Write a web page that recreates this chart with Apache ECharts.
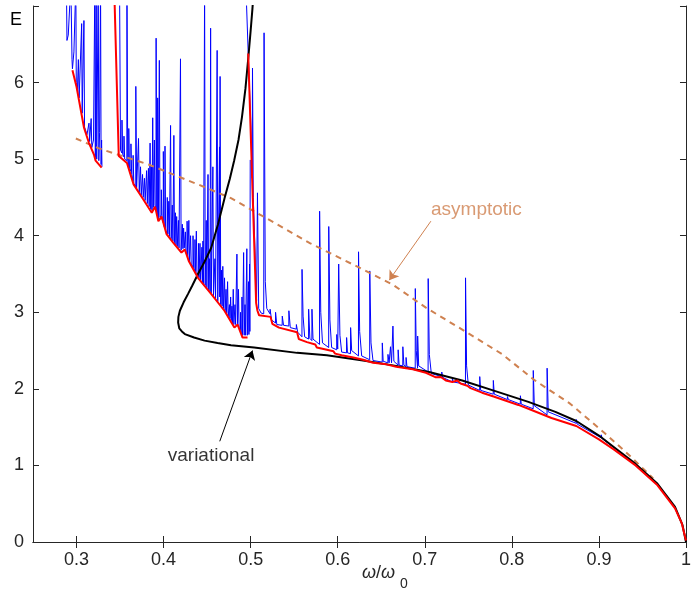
<!DOCTYPE html>
<html>
<head>
<meta charset="utf-8">
<script src="https://cdn.jsdelivr.net/npm/echarts@6/dist/echarts.min.js"></script>
<style>
  html, body { margin: 0; padding: 0; background: #fff; }
  #chart { width: 694px; height: 590px; }
</style>
</head>
<body>
<div id="chart"></div>
<script>
// tick labels
var xTicks = [0.3, 0.4, 0.5, 0.6, 0.7, 0.8, 0.9, 1];

// blue: numerical E, three pieces with spikes
var blueSeg1 = [
  [0.2884,7.3],[0.2890,6.55],[0.2905,6.62],[0.2935,7.3],[0.2948,6.3],[0.2953,6.18],[0.2970,6.4],
  [0.2992,7.3],[0.2997,6.0],[0.3010,5.9],[0.3021,6.3],[0.3030,5.8],[0.3059,6.77],[0.3065,5.6],
  [0.3085,6.81],[0.3092,5.42],[0.3120,5.32],[0.3143,5.47],[0.3150,5.23],[0.3168,5.53],[0.3175,5.15],
  [0.3195,5.25],[0.3210,7.3],[0.3216,5.02],[0.3226,7.3],[0.3232,5.0],[0.3249,7.3],[0.3256,4.98],
  [0.3265,5.35],[0.3276,7.3],[0.3282,4.93],[0.3288,5.25],[0.3292,4.9]
];
var blueSeg2 = [
  [0.3494,7.3],[0.3505,5.12],
  [0.3521,5.08],[0.3522,5.51],[0.3530,5.06],
  [0.3544,5.03],[0.3545,5.3],[0.3553,5.0],
  [0.3578,4.98],[0.3579,7.3],[0.3588,4.98],
  [0.3599,4.9],[0.3600,5.4],[0.3608,4.88],
  [0.3624,4.84],[0.3625,5.2],[0.3633,4.8],
  [0.3649,4.72],[0.3650,5.05],[0.3658,4.68],
  [0.3680,4.65],[0.3681,5.95],[0.3690,4.62],
  [0.3711,4.6],[0.3712,5.27],[0.3720,4.57],
  [0.3734,4.55],[0.3735,4.9],[0.3743,4.53],
  [0.3757,4.52],[0.3758,4.8],[0.3766,4.5],
  [0.3779,4.48],[0.3780,4.75],[0.3788,4.46],
  [0.3804,4.44],[0.3805,4.85],[0.3813,4.42],
  [0.3825,4.4],[0.3826,4.88],[0.3834,4.38],
  [0.3844,4.37],[0.3845,5.21],[0.3852,4.35],
  [0.3859,4.33],[0.3860,4.9],[0.3867,4.33],
  [0.3874,4.35],[0.3875,5.54],[0.3882,4.37],
  [0.3893,4.38],[0.3894,5.25],[0.3901,4.4],
  [0.3913,4.34],[0.3914,6.58],[0.3921,4.3],
  [0.3931,4.25],[0.3932,5.8],[0.3940,4.22],
  [0.3950,4.22],[0.3951,6.29],[0.3958,4.24],
  [0.3973,4.27],[0.3974,4.6],[0.3982,4.22],
  [0.3996,4.17],[0.3997,5.1],[0.4004,4.13],
  [0.4015,4.09],[0.4016,5.17],[0.4023,4.07],
  [0.4041,4.03],[0.4042,4.5],[0.4049,4.02],
  [0.4059,4.0],[0.4060,4.45],[0.4067,3.99],
  [0.4079,3.98],[0.4080,5.44],[0.4087,3.96],
  [0.4099,3.94],[0.4100,4.4],[0.4107,3.93],
  [0.4117,3.92],[0.4118,5.31],[0.4125,3.91],
  [0.4134,3.89],[0.4135,4.3],[0.4142,3.88],
  [0.4149,3.87],[0.4150,4.25],[0.4157,3.86],
  [0.4169,3.85],[0.4170,4.2],[0.4177,3.84],
  [0.4193,3.82],[0.4194,6.31],[0.4201,3.81],
  [0.4214,3.82],[0.4215,4.15],[0.4222,3.83],
  [0.4229,3.84],[0.4230,4.1],[0.4237,3.84],
  [0.4249,3.82],[0.4250,4.05],[0.4257,3.78],
  [0.4269,3.74],[0.4270,4.19],[0.4277,3.71],
  [0.4289,3.69],[0.4290,4.2],[0.4297,3.67],
  [0.4309,3.65],[0.4310,4.0],[0.4317,3.63],
  [0.4337,3.59],[0.4338,4.0],[0.4345,3.57],
  [0.4359,3.54],[0.4360,3.95],[0.4367,3.53],
  [0.4375,3.51],[0.4376,4.06],[0.4383,3.49],
  [0.4399,3.46],[0.4400,3.9],[0.4407,3.45],
  [0.4417,3.43],[0.4418,3.9],[0.4425,3.42],
  [0.4439,3.4],[0.4440,3.85],[0.4446,3.39],
  [0.4451,3.38],[0.4452,3.93],[0.4459,3.37],
  [0.4470,3.36],[0.4471,7.3],[0.4478,3.35],
  [0.4489,3.33],[0.4490,4.2],[0.4497,3.32],
  [0.4509,3.3],[0.4510,4.8],[0.4517,3.29],
  [0.4527,3.28],[0.4528,3.7],[0.4534,3.27],
  [0.4539,3.27],[0.4540,6.71],[0.4547,3.25],
  [0.4565,3.23],[0.4566,4.9],[0.4573,3.21],
  [0.4589,3.19],[0.4590,3.7],[0.4597,3.18],
  [0.4614,3.16],[0.4615,6.42],[0.4622,3.14],
  [0.4641,3.12],[0.4642,5.16],[0.4645,3.2],[0.4649,6.08],[0.4656,3.1],
  [0.4664,3.09],[0.4665,3.55],[0.4672,3.08],
  [0.4679,3.06],[0.4680,3.6],[0.4687,3.05],
  [0.4699,3.04],[0.4700,3.45],[0.4707,3.02],
  [0.4716,3.0],[0.4717,3.3],[0.4724,2.99],
  [0.4734,2.97],[0.4735,3.4],[0.4742,2.95],
  [0.4755,2.94],[0.4756,3.1],[0.4762,2.92],
  [0.4769,2.9],[0.4770,3.2],[0.4777,2.89],
  [0.4784,2.88],[0.4785,3.08],[0.4792,2.86],
  [0.4799,2.85],[0.4800,3.3],[0.4807,2.84],
  [0.4819,2.83],[0.4820,3.1],[0.4827,2.84],
  [0.4841,2.86],[0.4842,3.76],[0.4849,2.85],
  [0.4859,2.83],[0.4860,3.3],[0.4867,2.8],
  [0.4883,2.76],[0.4884,3.0],[0.4890,2.74],
  [0.4899,2.71],[0.4900,3.2],[0.4907,2.7],
  [0.4918,2.7],[0.4919,3.78],[0.4926,2.7],
  [0.4934,2.7],[0.4935,3.1],[0.4942,2.7],
  [0.4955,2.7],[0.4956,3.83],[0.4962,2.7],
  [0.4974,2.7],[0.4975,3.4],[0.4980,2.71],
  [0.4986,2.72],[0.4987,3.63],[0.4991,2.75],[0.4995,4.99]
];
var blueSeg3 = [
  [0.4944,7.3],[0.4972,6.38],[0.5000,5.5],[0.5018,4.75],[0.5021,6.19],[0.5030,4.5],[0.5050,3.8],
  [0.5068,3.15],[0.5078,4.56],[0.5092,3.05],[0.5120,2.99],[0.5150,2.98],[0.5154,6.65],[0.5168,3.4],
  [0.5185,3.05],[0.5222,2.98],[0.5223,3.04],[0.5240,2.9],[0.5285,2.86],[0.5286,3.0],[0.5300,2.84],
  [0.5362,2.83],[0.5363,2.95],[0.5378,2.83],[0.5438,2.82],[0.5439,3.02],[0.5455,2.80],[0.5524,2.78],
  [0.5525,2.84],[0.5540,2.74],[0.5589,2.68],[0.5590,3.56],[0.5602,2.95],[0.5620,2.68],[0.5665,2.65],
  [0.5666,3.04],[0.5680,2.66],[0.5703,2.63],[0.5704,3.04],[0.5716,2.65],[0.5791,2.58],[0.5792,4.32],
  [0.5805,3.0],[0.5825,2.6],[0.5896,2.54],[0.5897,4.12],[0.5910,2.9],[0.5930,2.54],[0.5988,2.51],
  [0.5989,2.71],[0.6000,2.52],[0.6010,2.50],[0.6011,3.63],[0.6025,2.7],[0.6045,2.48],[0.6101,2.47],
  [0.6102,2.67],[0.6112,2.47],[0.6147,2.46],[0.6148,2.80],[0.6160,2.5],[0.6238,2.43],[0.6239,3.79],
  [0.6252,2.75],[0.6275,2.43],[0.6367,2.38],[0.6368,3.54],[0.6382,2.6],[0.6405,2.37],[0.6511,2.35],
  [0.6512,2.60],[0.6522,2.36],[0.6576,2.34],[0.6577,2.45],[0.6590,2.34],[0.6605,2.33],[0.6606,2.55],
  [0.6618,2.34],[0.6633,2.32],[0.6634,2.82],[0.6645,2.36],[0.6693,2.31],[0.6694,2.51],[0.6705,2.31],
  [0.6747,2.30],[0.6748,2.55],[0.6760,2.31],[0.6784,2.29],[0.6785,2.41],[0.6795,2.29],[0.6890,2.27],
  [0.6891,3.31],[0.6902,2.5],[0.6917,2.27],[0.6918,2.69],[0.6930,2.3],[0.7038,2.22],[0.7039,3.44],
  [0.7052,2.45],[0.7075,2.2],[0.7194,2.16],[0.7195,2.22],[0.7205,2.15],[0.7316,2.09],[0.7317,2.13],
  [0.7327,2.09],[0.7467,2.06],[0.7468,3.45],[0.7480,2.3],[0.7500,2.05],[0.7630,1.98],[0.7631,2.16],
  [0.7642,1.98],[0.7786,1.93],[0.7787,2.11],[0.7798,1.93],[0.7948,1.86],[0.7949,1.90],[0.7960,1.86],
  [0.8097,1.80],[0.8098,1.91],[0.8108,1.80],[0.8245,1.74],[0.8246,2.24],[0.8258,1.78],[0.8404,1.66],
  [0.8405,2.27],[0.8418,1.7],[0.8739,1.55],[0.8740,1.60],[0.8750,1.54],[0.9026,1.36],[0.9027,1.40],
  [0.9037,1.35],[0.9300,1.12]
];

// red: lower envelope, three pieces
var redSeg1 = [[0.2953,6.16],[0.2999,5.95],[0.3086,5.41],[0.3143,5.21],[0.3200,5.06],[0.3219,4.98],[0.3288,4.89]];
var redSeg2 = [
  [0.3436,7.1],[0.3485,5.04],[0.3579,4.95],[0.3655,4.67],[0.3769,4.47],[0.3864,4.30],[0.3902,4.38],
  [0.3940,4.19],[0.3977,4.25],[0.4034,4.02],[0.4110,3.91],[0.4205,3.78],[0.4244,3.82],[0.4289,3.67],
  [0.4395,3.45],[0.4546,3.24],[0.4699,3.02],[0.4813,2.80],[0.4850,2.84],[0.4907,2.67],[0.4964,2.67]
];
var redSeg3 = [
  [0.4972,6.38],[0.5021,4.6],[0.5063,3.12],[0.5078,3.02],[0.5097,2.96],[0.5229,2.94],[0.5249,2.85],
  [0.5325,2.80],[0.5533,2.74],[0.5553,2.65],[0.5647,2.61],[0.5742,2.58],[0.5760,2.54],[0.5837,2.52],
  [0.5951,2.49],[0.5970,2.46],[0.6045,2.44],[0.6179,2.41],[0.6292,2.38],[0.6406,2.34],[0.6558,2.32],
  [0.6672,2.29],[0.6862,2.255],[0.7013,2.21],[0.7127,2.15],[0.7184,2.155],[0.7241,2.11],[0.7317,2.09],
  [0.7374,2.11],[0.7411,2.07],[0.7488,2.04],[0.7525,2.01],[0.7658,1.95],[0.7790,1.90],[0.8075,1.79],
  [0.8190,1.74],[0.8455,1.62],[0.8740,1.515],[0.9000,1.34],[0.9170,1.21],[0.9421,1.00],[0.9673,0.74],
  [0.9874,0.44],[0.9950,0.25],[1.0,0.02]
];

// black: variational curve (turns back at the nose)
var variational = [
  [0.5035,7.2],[0.5020,6.96],[0.5000,6.68],[0.4975,6.35],[0.4940,5.92],[0.4900,5.55],[0.4860,5.25],
  [0.4810,4.98],[0.4760,4.74],[0.4700,4.49],[0.4625,4.15],[0.4546,3.84],[0.4470,3.66],[0.4395,3.50],
  [0.4330,3.35],[0.4281,3.24],[0.4230,3.13],[0.4187,3.02],[0.4170,2.94],[0.4167,2.866],[0.4180,2.79],
  [0.4210,2.75],[0.4244,2.715],[0.4350,2.67],[0.4471,2.63],[0.4620,2.60],[0.4774,2.57],[0.5040,2.54],
  [0.5533,2.47],[0.5875,2.44],[0.6290,2.37],[0.6670,2.30],[0.7050,2.22],[0.7430,2.11],[0.7810,1.97],
  [0.8190,1.83],[0.8500,1.70],[0.8740,1.58],[0.9000,1.39],[0.9170,1.24],[0.9421,1.02],[0.9673,0.76],
  [0.9874,0.46],[0.9960,0.22],[1.0,0.0]
];

// orange dashed: asymptotic
var asymptotic = [
  [0.2992,5.27],[0.3257,5.14],[0.3826,4.93],[0.4395,4.67],[0.4774,4.49],[0.5116,4.27],[0.5685,3.90],
  [0.6254,3.58],[0.6634,3.36],[0.7013,3.06],[0.7392,2.80],[0.7886,2.455],[0.8265,2.11],[0.8665,1.81],
  [0.9068,1.42],[0.9371,1.11],[0.9623,0.83]
];

// annotation anchors (data coordinates)
var asymArrow = [[0.707, 4.19], [0.6592, 3.42]];
var varArrow = [[0.4645, 1.315], [0.5021, 2.50]];
var asymText = [0.7593, 4.34];
var varText = [0.4545, 1.12];

var orange = '#cf8150';
var axisColor = '#262626';
var fontFamily = '"Liberation Sans", Arial, sans-serif';

var chartDom = document.getElementById('chart');
var myChart = echarts.init(chartDom);

function lineSeries(data, color, width, z, dash) {
  return {
    type: 'line',
    data: data,
    symbol: 'none',
    showSymbol: false,
    animation: false,
    clip: true,
    z: z,
    color: color,
    lineStyle: { color: color, width: width, type: dash || 'solid' },
    emphasis: { disabled: true }
  };
}

var option = {
  animation: false,
  grid: { left: 33, right: 2, top: 6, bottom: 48, containLabel: false },
  xAxis: [
    {
      type: 'value', min: 0.25, max: 1, position: 'bottom',
      axisLine: { show: true, lineStyle: { color: axisColor, width: 1 } },
      axisTick: { show: true, inside: true, length: 6, customValues: xTicks, lineStyle: { color: axisColor } },
      axisLabel: {
        show: true, customValues: xTicks, margin: 9,
        color: axisColor, fontSize: 18, fontFamily: fontFamily,
        formatter: function (v) { return v === 1 ? '1' : v.toFixed(1); }
      },
      splitLine: { show: false }
    },
    {
      type: 'value', min: 0.25, max: 1, position: 'top',
      axisLine: { show: true, lineStyle: { color: axisColor, width: 1 } },
      axisTick: { show: true, inside: true, length: 6, customValues: xTicks, lineStyle: { color: axisColor } },
      axisLabel: { show: false },
      splitLine: { show: false }
    }
  ],
  yAxis: [
    {
      type: 'value', min: 0, max: 7, interval: 1, position: 'left',
      axisLine: { show: true, lineStyle: { color: axisColor, width: 1 } },
      axisTick: { show: true, inside: true, length: 6, lineStyle: { color: axisColor } },
      axisLabel: {
        color: axisColor, fontSize: 18, fontFamily: fontFamily, margin: 9,
        formatter: function (v) { return v === 7 ? '' : String(v); }
      },
      splitLine: { show: false }
    },
    {
      type: 'value', min: 0, max: 7, interval: 1, position: 'right',
      axisLine: { show: true, lineStyle: { color: axisColor, width: 1 } },
      axisTick: { show: true, inside: true, length: 6, lineStyle: { color: axisColor } },
      axisLabel: { show: false },
      splitLine: { show: false }
    }
  ],
  series: [
    lineSeries(blueSeg1, '#0000ff', 1, 2),
    lineSeries(blueSeg2, '#0000ff', 1, 2),
    lineSeries(blueSeg3, '#0000ff', 1, 2),
    lineSeries(asymptotic, orange, 2, 3, [6, 5]),
    lineSeries(variational, '#000000', 2, 4),
    lineSeries(redSeg1, '#ff0000', 2, 5),
    lineSeries(redSeg2, '#ff0000', 2, 5),
    lineSeries(redSeg3, '#ff0000', 2, 5),
    {
      type: 'lines',
      coordinateSystem: 'cartesian2d',
      symbol: ['none', 'arrow'],
      symbolSize: 9,
      animation: false,
      z: 6,
      lineStyle: { width: 1, opacity: 1, curveness: 0 },
      data: [
        { coords: asymArrow, lineStyle: { color: orange } },
        { coords: varArrow, lineStyle: { color: '#000000' } }
      ]
    },
    {
      type: 'scatter',
      symbol: 'circle',
      symbolSize: 2,
      animation: false,
      z: 7,
      silent: true,
      itemStyle: { color: 'rgba(0,0,0,0)' },
      label: { show: true, position: 'inside', fontSize: 19, fontFamily: fontFamily },
      data: [
        { value: asymText, label: { formatter: 'asymptotic', color: orange } },
        { value: varText, label: { formatter: 'variational', color: '#000000' } }
      ]
    }
  ],
  graphic: [
    {
      type: 'text', x: 16, y: 20,
      style: { text: 'E', fill: '#000', font: '18px ' + fontFamily, textAlign: 'center', textVerticalAlign: 'middle' }
    },
    {
      type: 'text', x: 362, y: 573,
      style: {
        text: '{i|ω}/{i|ω}', fill: axisColor, textAlign: 'left', textVerticalAlign: 'middle',
        rich: { i: { fontStyle: 'italic', fontSize: 18, fontFamily: fontFamily, fill: axisColor } },
        font: '18px ' + fontFamily
      }
    },
    {
      type: 'text', x: 404, y: 584,
      style: { text: '0', fill: axisColor, font: '14px ' + fontFamily, textAlign: 'center', textVerticalAlign: 'middle' }
    }
  ]
};

myChart.setOption(option);
window.addEventListener('resize', function () {
  myChart.resize();
});
</script>
</body>
</html>
